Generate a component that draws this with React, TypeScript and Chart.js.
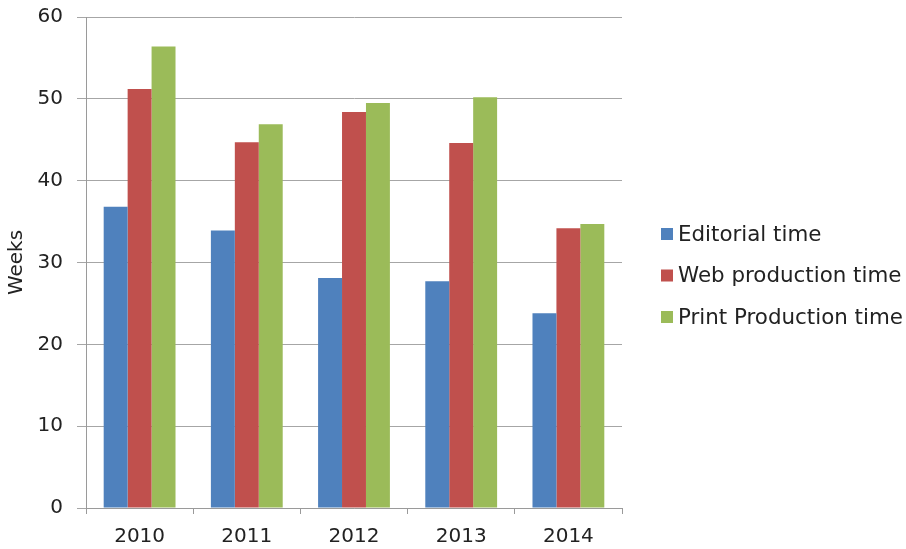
import React, { useEffect, useRef } from "react";
import { Chart, registerables } from "chart.js";

Chart.register(...registerables);

const categories = ["2010", "2011", "2012", "2013", "2014"];
const editorialTime = [36.8, 33.9, 28.1, 27.7, 23.8];
const webProductionTime = [51.2, 44.7, 48.4, 44.6, 34.2];
const printProductionTime = [56.4, 46.9, 49.5, 50.2, 34.7];
const seriesNames = ["Editorial time", "Web production time", "Print Production time"];
const seriesColors = ["#4F81BD", "#C0504D", "#9BBB59"];

const FONT = "'DejaVu Sans', Verdana, sans-serif";

const sideLegend = {
  id: "sideLegend",
  afterDraw(chart: any) {
    const { ctx, chartArea } = chart;
    const x = chartArea.right + 39;
    const spacing = 41.5;
    const n = chart.data.datasets.length;
    const cy = (chartArea.top + chartArea.bottom) / 2 + 13;
    ctx.save();
    ctx.font = `21.4px ${FONT}`;
    ctx.textBaseline = "middle";
    ctx.textAlign = "left";
    chart.data.datasets.forEach((ds: any, i: number) => {
      const y = cy + (i - (n - 1) / 2) * spacing;
      ctx.fillStyle = ds.backgroundColor;
      ctx.fillRect(x, y - 6, 12, 12);
      ctx.fillStyle = "#222";
      ctx.fillText(ds.label, x + 17, y + 1);
    });
    ctx.restore();
  },
};

export default function App() {
  const ref = useRef<HTMLCanvasElement | null>(null);
  useEffect(() => {
    if (!ref.current) return;
    const chart = new Chart(ref.current, {
      type: "bar",
      data: {
        labels: categories,
        datasets: [
          { label: seriesNames[0], data: editorialTime, backgroundColor: seriesColors[0] },
          { label: seriesNames[1], data: webProductionTime, backgroundColor: seriesColors[1] },
          { label: seriesNames[2], data: printProductionTime, backgroundColor: seriesColors[2] },
        ],
      },
      plugins: [sideLegend],
      options: {
        animation: false,
        responsive: false,
        maintainAspectRatio: false,
        layout: { padding: { top: 17, right: 284, left: 0, bottom: 0 } },
        datasets: { bar: { barPercentage: 1, categoryPercentage: 0.67 } },
        plugins: {
          tooltip: { enabled: false },
          legend: { display: false },
        },
        scales: {
          x: {
            afterFit: (scale: any) => {
              scale.height = 41;
            },
            grid: {
              drawOnChartArea: false,
              drawTicks: true,
              tickLength: 6,
              color: "#9a9a9a",
              offset: true,
            },
            border: { color: "#9a9a9a", width: 1 },
            ticks: { color: "#222", font: { family: FONT, size: 20 }, padding: 11 },
          },
          y: {
            min: 0,
            max: 60,
            afterFit: (scale: any) => {
              scale.width = 86;
              scale.paddingTop = 0;
              scale.paddingBottom = 0;
            },
            ticks: { stepSize: 10, color: "#222", font: { family: FONT, size: 20 }, padding: 14 },
            grid: { color: "#a6a6a6", tickLength: 9, lineWidth: 1 },
            border: { color: "#9a9a9a", width: 1 },
            title: {
              display: true,
              text: "Weeks",
              color: "#222",
              font: { family: FONT, size: 20, lineHeight: 0.8 },
              padding: { top: 9, bottom: 0 },
            },
          },
        },
      },
    });
    return () => chart.destroy();
  }, []);
  return (
    <div style={{ position: "fixed", left: 0, top: 0, width: 906, height: 549, background: "#fff" }}>
      <canvas ref={ref} width={906} height={549} style={{ width: 906, height: 549 }} />
    </div>
  );
}
